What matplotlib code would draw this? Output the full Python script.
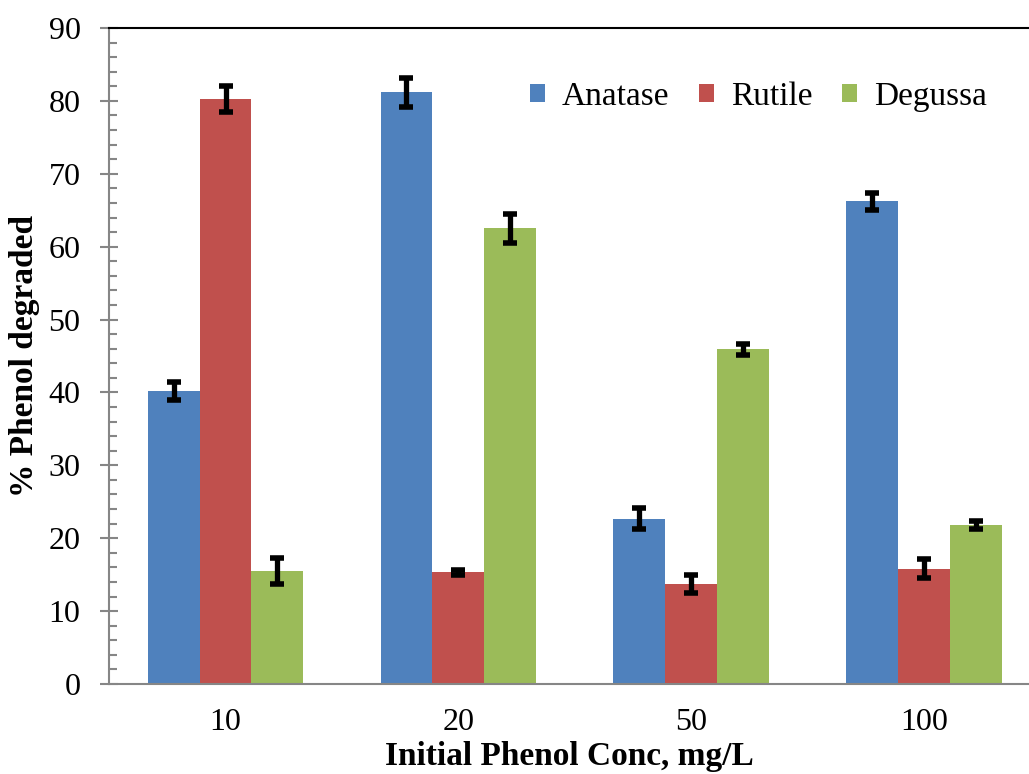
import matplotlib.pyplot as plt
import numpy as np
from matplotlib.ticker import MultipleLocator

# Phenol degradation for three TiO2 catalysts
conc_labels = ['10', '20', '50', '100']
anatase = [40.2, 81.2, 22.7, 66.2]
rutile = [80.3, 15.3, 13.7, 15.8]
degussa = [15.5, 62.5, 45.9, 21.8]
anatase_err = [1.2, 2.0, 1.5, 1.2]
rutile_err = [1.8, 0.3, 1.2, 1.3]
degussa_err = [1.8, 2.0, 0.8, 0.6]

plt.rcParams['font.family'] = ['Liberation Serif', 'DejaVu Serif']

fig = plt.figure(figsize=(10.29, 7.74), dpi=100)
ax = fig.add_axes([0.106, 0.1163, 0.894, 0.8475])

x = np.arange(len(conc_labels))
w = 0.223
series = [
    ('Anatase', anatase, anatase_err, '#4F81BD'),
    ('Rutile', rutile, rutile_err, '#C0504D'),
    ('Degussa', degussa, degussa_err, '#9BBB59'),
]
for i, (name, vals, err, col) in enumerate(series):
    ax.bar(x + (i - 1) * w, vals, w, color=col, label=name,
           yerr=err, error_kw=dict(ecolor='black', elinewidth=3.8,
                                   capsize=5, capthick=4))

ax.set_xlim(-0.5, 3.45)
ax.set_ylim(0, 90)
ax.set_xticks(x)
ax.set_xticklabels(conc_labels)
ax.yaxis.set_major_locator(MultipleLocator(10))
ax.yaxis.set_minor_locator(MultipleLocator(2))

gray = '#868686'
ax.tick_params(axis='y', which='major', direction='inout', length=13,
               width=1.5, color=gray, labelsize=23, pad=14)
ax.tick_params(axis='y', which='minor', direction='in', length=6,
               width=1.5, color=gray)
ax.tick_params(axis='x', length=0, labelsize=23, pad=17)

for side in ['left', 'bottom']:
    ax.spines[side].set_color(gray)
    ax.spines[side].set_linewidth(1.5)
ax.spines['right'].set_visible(False)
ax.spines['top'].set_color('black')
ax.spines['top'].set_linewidth(1.5)

ax.set_xlabel('Initial Phenol Conc, mg/L', fontsize=24, fontweight='bold',
              labelpad=3)
ax.set_ylabel('% Phenol degraded', fontsize=24, fontweight='bold',
              labelpad=6)

ax.legend(loc='center', bbox_to_anchor=(0.706, 0.895), ncol=3,
          frameon=False, fontsize=24, handlelength=0.45, handleheight=0.45,
          columnspacing=0.9, handletextpad=0.5)

fig.savefig('out.png', dpi=100)
